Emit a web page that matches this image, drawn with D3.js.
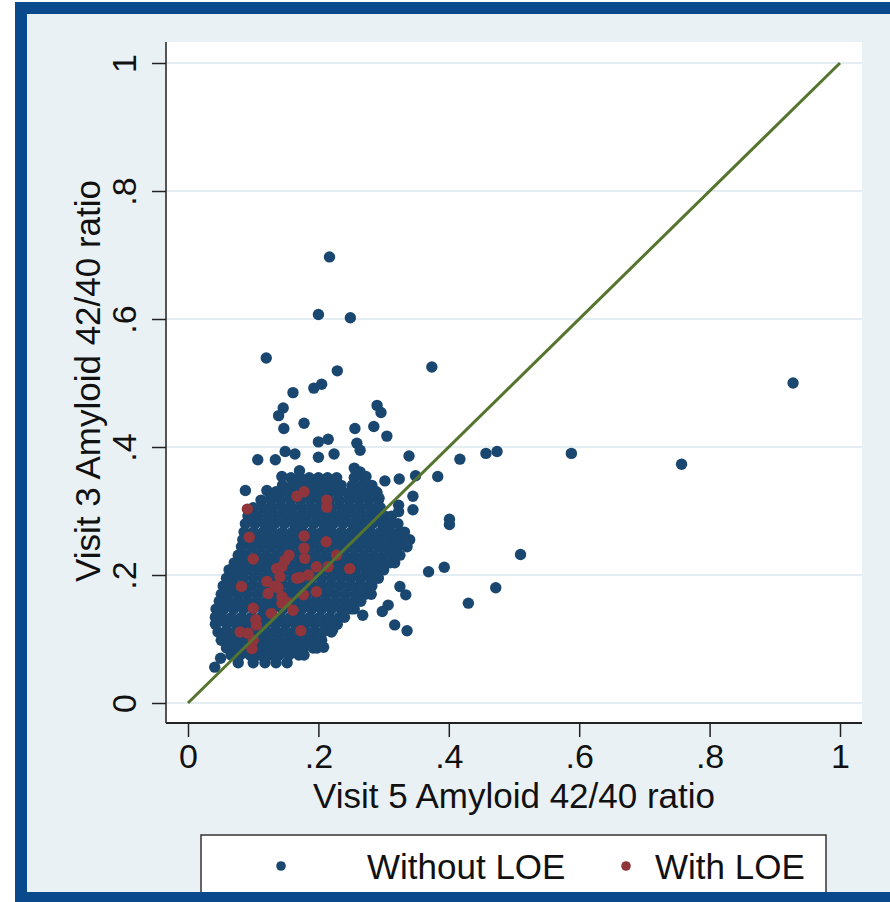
<!DOCTYPE html>
<html><head><meta charset="utf-8">
<script src="https://cdn.jsdelivr.net/npm/d3@7"></script>
<style>html,body{margin:0;padding:0;background:#fff;}svg{display:block;}</style>
</head><body>
<svg id="chart" width="890" height="902"></svg>
<script>
// ---------------- data ----------------
const xTicks = [0, 0.2, 0.4, 0.6, 0.8, 1];
const yTicks = [0, 0.2, 0.4, 0.6, 0.8, 1];
const tickLabels = ["0", ".2", ".4", ".6", ".8", "1"];
const xTitle = "Visit 5 Amyloid 42/40 ratio";
const yTitle = "Visit 3 Amyloid 42/40 ratio";
const seriesNames = ["Without LOE", "With LOE"];
const refLine = [[0, 0], [1, 1]];

// Without LOE: scattered outliers
const withoutOutliers = [
[.217,.697],[.200,.607],[.249,.602],[.120,.539],[.374,.525],[.229,.519],[.193,.492],[.205,.498],
[.161,.485],[.146,.461],[.139,.449],[.290,.465],[.296,.454],[.178,.437],[.147,.429],[.256,.429],
[.285,.432],[.305,.417],[.200,.408],[.215,.412],[.259,.406],[.264,.395],[.149,.393],[.164,.389],
[.224,.389],[.200,.384],[.339,.386],[.107,.380],[.134,.380],[.928,.500],[.417,.381],[.457,.390],
[.474,.393],[.588,.390],[.757,.373],[.383,.354],[.401,.287],[.401,.279],[.510,.232],[.369,.205],
[.393,.212],[.472,.180],[.430,.156],[.325,.182],[.334,.169],[.281,.170],[.307,.153],[.298,.143],
[.317,.122],[.336,.113],[.222,.115],[.200,.091],[.208,.087],[.174,.084],[.268,.137],
[.171,.363],[.144,.354],[.162,.345],[.255,.367],[.264,.361],[.273,.354],[.302,.347],[.324,.350],
[.349,.355],[.088,.332],[.121,.332],[.135,.330],[.152,.332],[.289,.330],[.293,.320],[.345,.323],
[.345,.302],[.323,.309],[.323,.299],[.335,.252],[.320,.260],[.307,.242],[.041,.056],[.050,.070]
];

// Without LOE: dense central cloud, read row by row
const withoutCore = [
[.158,.352],[.172,.352],[.186,.352],[.200,.352],[.214,.352],[.228,.352],[.255,.352],[.270,.352],
[.145,.340],[.160,.340],[.175,.340],[.190,.340],[.205,.340],[.220,.340],[.235,.340],[.252,.340],[.267,.340],[.282,.340],
[.125,.328],[.140,.328],[.155,.328],[.170,.328],[.185,.328],[.200,.328],[.215,.328],[.230,.328],[.245,.328],[.260,.328],[.275,.328],[.290,.328],
[.112,.317],[.127,.317],[.142,.317],[.157,.317],[.172,.317],[.187,.317],[.202,.317],[.217,.317],[.232,.317],[.247,.317],[.262,.317],[.277,.317],[.292,.317],
[.100,.305],[.115,.305],[.130,.305],[.145,.305],[.160,.305],[.175,.305],[.190,.305],[.205,.305],[.220,.305],[.235,.305],[.250,.305],[.265,.305],[.280,.305],[.295,.305],
[.092,.292],[.107,.292],[.122,.292],[.137,.292],[.152,.292],[.167,.292],[.182,.292],[.197,.292],[.212,.292],[.227,.292],[.242,.292],[.257,.292],[.272,.292],[.287,.292],[.302,.292],[.312,.292],
[.088,.280],[.103,.280],[.118,.280],[.133,.280],[.148,.280],[.163,.280],[.178,.280],[.193,.280],[.208,.280],[.223,.280],[.238,.280],[.253,.280],[.268,.280],[.283,.280],[.298,.280],[.313,.280],[.322,.280],
[.086,.267],[.100,.267],[.115,.267],[.130,.267],[.145,.267],[.160,.267],[.175,.267],[.190,.267],[.205,.267],[.220,.267],[.235,.267],[.250,.267],[.265,.267],[.280,.267],[.295,.267],[.310,.267],[.325,.267],[.332,.267],
[.084,.255],[.093,.255],[.108,.255],[.123,.255],[.138,.255],[.153,.255],[.168,.255],[.183,.255],[.198,.255],[.213,.255],[.228,.255],[.243,.255],[.258,.255],[.273,.255],[.288,.255],[.303,.255],[.318,.255],[.333,.255],[.340,.255],
[.082,.244],[.097,.244],[.112,.244],[.127,.244],[.142,.244],[.157,.244],[.172,.244],[.187,.244],[.202,.244],[.217,.244],[.232,.244],[.247,.244],[.262,.244],[.277,.244],[.292,.244],[.307,.244],[.322,.244],[.336,.244],
[.077,.231],[.090,.231],[.105,.231],[.120,.231],[.135,.231],[.150,.231],[.165,.231],[.180,.231],[.195,.231],[.210,.231],[.225,.231],[.240,.231],[.255,.231],[.270,.231],[.285,.231],[.300,.231],[.315,.231],[.325,.231],
[.071,.219],[.085,.219],[.100,.219],[.115,.219],[.130,.219],[.145,.219],[.160,.219],[.175,.219],[.190,.219],[.205,.219],[.220,.219],[.235,.219],[.250,.219],[.265,.219],[.280,.219],[.295,.219],[.310,.219],[.317,.219],
[.063,.208],[.077,.208],[.092,.208],[.107,.208],[.122,.208],[.137,.208],[.152,.208],[.167,.208],[.182,.208],[.197,.208],[.212,.208],[.227,.208],[.242,.208],[.257,.208],[.272,.208],[.287,.208],[.300,.208],
[.059,.195],[.070,.195],[.085,.195],[.100,.195],[.115,.195],[.130,.195],[.145,.195],[.160,.195],[.175,.195],[.190,.195],[.205,.195],[.220,.195],[.235,.195],[.250,.195],[.265,.195],[.280,.195],[.292,.195],
[.054,.183],[.067,.183],[.082,.183],[.097,.183],[.112,.183],[.127,.183],[.142,.183],[.157,.183],[.172,.183],[.187,.183],[.202,.183],[.217,.183],[.232,.183],[.247,.183],[.262,.183],[.277,.183],[.282,.183],
[.051,.170],[.062,.170],[.077,.170],[.092,.170],[.107,.170],[.122,.170],[.137,.170],[.152,.170],[.167,.170],[.182,.170],[.197,.170],[.212,.170],[.227,.170],[.242,.170],[.257,.170],[.272,.170],
[.048,.159],[.060,.159],[.075,.159],[.090,.159],[.105,.159],[.120,.159],[.135,.159],[.150,.159],[.165,.159],[.180,.159],[.195,.159],[.210,.159],[.225,.159],[.240,.159],[.255,.159],[.265,.159],
[.043,.147],[.055,.147],[.070,.147],[.085,.147],[.100,.147],[.115,.147],[.130,.147],[.145,.147],[.160,.147],[.175,.147],[.190,.147],[.205,.147],[.220,.147],[.235,.147],[.250,.147],[.255,.147],
[.042,.134],[.052,.134],[.067,.134],[.082,.134],[.097,.134],[.112,.134],[.127,.134],[.142,.134],[.157,.134],[.172,.134],[.187,.134],[.202,.134],[.217,.134],[.232,.134],[.240,.134],
[.042,.123],[.060,.123],[.075,.123],[.090,.123],[.105,.123],[.120,.123],[.135,.123],[.150,.123],[.165,.123],[.180,.123],[.195,.123],[.210,.123],[.225,.123],[.229,.123],
[.046,.111],[.057,.111],[.072,.111],[.087,.111],[.102,.111],[.117,.111],[.132,.111],[.147,.111],[.162,.111],[.177,.111],[.192,.111],[.207,.111],[.220,.111],
[.051,.098],[.065,.098],[.080,.098],[.095,.098],[.110,.098],[.125,.098],[.140,.098],[.155,.098],[.170,.098],[.185,.098],[.200,.098],[.205,.098],
[.059,.086],[.072,.086],[.087,.086],[.102,.086],[.117,.086],[.132,.086],[.147,.086],[.162,.086],[.177,.086],[.192,.086],[.198,.086],
[.066,.075],[.080,.075],[.095,.075],[.110,.075],[.125,.075],[.140,.075],[.155,.075],[.170,.075],[.178,.075],
[.077,.063],[.100,.063],[.118,.063],[.135,.063],[.152,.063],
// extra reads filling between rows
[.150,.298],[.195,.298],[.240,.298],[.285,.298],[.120,.274],[.170,.274],[.215,.274],[.260,.274],[.305,.274],
[.100,.249],[.150,.249],[.200,.249],[.250,.249],[.300,.249],[.330,.249],[.090,.225],[.140,.225],[.190,.225],[.240,.225],[.290,.225],
[.075,.201],[.125,.201],[.175,.201],[.225,.201],[.275,.201],[.065,.177],[.115,.177],[.165,.177],[.215,.177],[.265,.177],
[.060,.153],[.110,.153],[.160,.153],[.210,.153],[.250,.153],[.050,.128],[.100,.128],[.150,.128],[.200,.128],
[.060,.104],[.110,.104],[.160,.104],[.200,.104],[.075,.080],[.125,.080],[.165,.080],[.138,.322],[.200,.322],[.260,.322]
];

// With LOE
const withLOE = [
[.091,.303],[.167,.323],[.178,.330],[.213,.317],[.213,.306],[.094,.259],[.178,.261],[.212,.252],
[.100,.225],[.155,.231],[.149,.223],[.178,.242],[.179,.226],[.228,.231],[.248,.210],[.136,.210],
[.144,.213],[.197,.213],[.215,.213],[.185,.200],[.141,.197],[.167,.195],[.082,.182],[.121,.190],
[.133,.182],[.123,.171],[.177,.169],[.197,.174],[.144,.166],[.151,.158],[.144,.156],[.161,.145],
[.100,.148],[.128,.140],[.104,.130],[.105,.122],[.173,.113],[.080,.111],[.092,.109],[.100,.098],
[.098,.085],[.138,.180],[.172,.196]
];

// ---------------- drawing ----------------
const svg = d3.select("#chart");
const W = 890, H = 902;
const blue = "#1a476f", red = "#90353b", green = "#55752f";
const bg = "#eaf1f4", frame = "#0a4a8c", grid = "#e4edf1";
const font = "'Liberation Sans', Arial, Helvetica, sans-serif";

// frame and background
svg.append("rect").attr("x", 0).attr("y", 0).attr("width", W).attr("height", H).attr("fill", "#fff");
svg.append("rect").attr("x", 15).attr("y", 2).attr("width", W - 15).attr("height", H - 2).attr("fill", frame);
svg.append("rect").attr("x", 27).attr("y", 14).attr("width", W - 27).attr("height", 878).attr("fill", bg);

const plot = {left: 167, right: 862, top: 42, bottom: 723};
svg.append("rect").attr("x", plot.left).attr("y", plot.top)
  .attr("width", plot.right - plot.left).attr("height", plot.bottom - plot.top).attr("fill", "#fff");

const x = d3.scaleLinear().domain([0, 1]).range([188, 840]);
const y = d3.scaleLinear().domain([0, 1]).range([703, 63]);

// gridlines
svg.append("g").selectAll("line").data(yTicks).join("line")
  .attr("x1", plot.left).attr("x2", plot.right)
  .attr("y1", d => y(d)).attr("y2", d => y(d))
  .attr("stroke", grid).attr("stroke-width", 2);

// axes
const yAxis = d3.axisLeft(y).tickValues(yTicks).tickFormat((d, i) => tickLabels[i]).tickSize(14).tickPadding(10);
const gy = svg.append("g").attr("transform", `translate(${plot.left - 1},0)`).call(yAxis);
gy.select(".domain").remove();
gy.append("line").attr("x1", 0).attr("x2", 0).attr("y1", plot.top).attr("y2", plot.bottom).attr("stroke", "#222").attr("stroke-width", 1.5);
gy.selectAll(".tick line").attr("stroke", "#222").attr("stroke-width", 1.5);
gy.selectAll(".tick text")
  .attr("font-family", font).attr("font-size", 34).attr("fill", "#111")
  .attr("text-anchor", "middle").attr("dy", null).attr("x", null)
  .attr("transform", "translate(-30,0) rotate(-90)")
  .attr("dominant-baseline", "auto").attr("y", 0);

const xAxis = d3.axisBottom(x).tickValues(xTicks).tickFormat((d, i) => tickLabels[i]).tickSize(14).tickPadding(7);
const gx = svg.append("g").attr("transform", `translate(0,${plot.bottom})`).call(xAxis);
gx.select(".domain").remove();
gx.append("line").attr("x1", plot.left - 1).attr("x2", plot.right).attr("y1", 0).attr("y2", 0).attr("stroke", "#222").attr("stroke-width", 2);
gx.selectAll(".tick line").attr("stroke", "#222").attr("stroke-width", 1.5);
gx.selectAll(".tick text").attr("font-family", font).attr("font-size", 34).attr("fill", "#111");

// axis titles
svg.append("text").attr("x", 514).attr("y", 808).attr("text-anchor", "middle")
  .attr("font-family", font).attr("font-size", 35).attr("fill", "#111").text(xTitle);
svg.append("text").attr("transform", `translate(100,381) rotate(-90)`).attr("text-anchor", "middle")
  .attr("font-family", font).attr("font-size", 35).attr("fill", "#111").text(yTitle);

// points
const r = 5.7;
const gp = svg.append("g");
gp.selectAll("circle.wo").data(withoutCore.concat(withoutOutliers)).join("circle")
  .attr("class", "wo").attr("cx", d => x(d[0])).attr("cy", d => y(d[1])).attr("r", r).attr("fill", blue);
gp.selectAll("circle.wl").data(withLOE).join("circle")
  .attr("class", "wl").attr("cx", d => x(d[0])).attr("cy", d => y(d[1])).attr("r", r).attr("fill", red);

// reference line
svg.append("path").datum(refLine)
  .attr("d", d3.line().x(d => x(d[0])).y(d => y(d[1])))
  .attr("stroke", green).attr("stroke-width", 3).attr("fill", "none");

// legend
const lg = svg.append("g");
lg.append("rect").attr("x", 201).attr("y", 835).attr("width", 625).attr("height", 70)
  .attr("fill", "#fff").attr("stroke", "#333").attr("stroke-width", 1.5);
const legendItems = [
  {name: seriesNames[0], color: blue, cx: 281, tx: 367},
  {name: seriesNames[1], color: red, cx: 626, tx: 655}
];
legendItems.forEach(it => {
  lg.append("circle").attr("cx", it.cx).attr("cy", 866).attr("r", 4.8).attr("fill", it.color);
  lg.append("text").attr("x", it.tx).attr("y", 879).attr("font-family", font).attr("font-size", 35)
    .attr("fill", "#111").text(it.name);
});
// bottom frame over legend
svg.append("rect").attr("x", 15).attr("y", 892).attr("width", W - 15).attr("height", 10).attr("fill", frame);
</script>
</body></html>
